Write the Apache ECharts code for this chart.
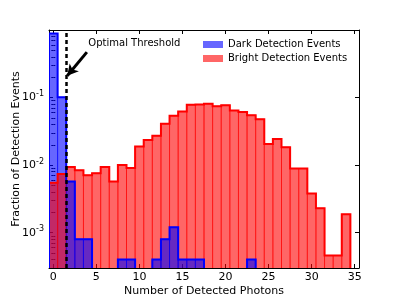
<!DOCTYPE html>
<html><head><meta charset="utf-8">
<script src="https://cdn.jsdelivr.net/npm/echarts@6/dist/echarts.min.js"></script>
<style>html,body{margin:0;padding:0;background:#fff}#c{width:399px;height:299px}</style>
</head><body><div id="c"></div>
<script>
// ---- data ----
const bins = [0,1,2,3,4,5,6,7,8,9,10,11,12,13,14,15,16,17,18,19,20,21,22,23,24,25,26,27,28,29,30,31,32,33,34];
const darkValues = [0.887,0.101,0.0057,0.0008,0.0008,0,0,0,0.0004,0.0004,0,0,0.0004,0.0008,0.0012,0.0004,0.0004,0.0004,0,0,0,0,0,0.0004,0,0,0,0,0,0,0,0,0,0,0];
const brightValues = [0.0055,0.0074,0.0094,0.0084,0.0071,0.0076,0.0094,0.0057,0.0100,0.0091,0.0189,0.0235,0.0271,0.041,0.054,0.062,0.078,0.079,0.081,0.0745,0.077,0.0643,0.0612,0.0548,0.0478,0.0205,0.0244,0.0184,0.0089,0.0089,0.0038,0.0023,0.00046,0.00046,0.00187];
const xTickValues = [0,5,10,15,20,25,30,35];
const yTickValues = [0.001,0.01,0.1,1];
const yLabelValues = [0.001,0.01,0.1];
const yMinorValues = [0.0004,0.0005,0.0006,0.0007,0.0008,0.0009,0.002,0.003,0.004,0.005,0.006,0.007,0.008,0.009,0.02,0.03,0.04,0.05,0.06,0.07,0.08,0.09,0.2,0.3,0.4,0.5,0.6,0.7,0.8,0.9];
const threshold = 1.5;
const annotationText = 'Optimal Threshold';
const arrowFrom = [3.9, 0.47];
const arrowTo = [1.62, 0.21];
const textAt = [4.07, 0.634];
const darkName = 'Dark Detection Events';
const brightName = 'Bright Detection Events';

const X_MIN = -0.5, X_MAX = 35.5, Y_MIN = 0.0003, Y_MAX = 1;
const FONT = 'DejaVu Sans';

function histRender(values, fill, edge, line, fillTest, outline) {
  return function (params, api) {
    const i = params.dataIndex;
    const k = api.value(0);
    const v = values[i];
    const yBottom = api.coord([k, Y_MIN])[1] + 8;
    const yOf = (x, val) => val > 0 ? api.coord([x, val])[1] : yBottom;
    const children = [];
    const xL = api.coord([k - 0.5, Y_MIN])[0];
    const xR = api.coord([k + 0.5, Y_MIN])[0];
    if (v > 0 && fillTest(k)) {
      const yt = yOf(k, v);
      children.push({type: 'rect', shape: {x: xL, y: yt, width: xR - xL, height: yBottom - yt},
        style: {fill: fill, stroke: edge, lineWidth: 1}});
    }
    if (outline && i === 0) {
      const pts = [[api.coord([bins[0] - 0.5, Y_MIN])[0], yBottom]];
      for (let j = 0; j < values.length; j++) {
        const y = yOf(bins[j], values[j]);
        pts.push([api.coord([bins[j] - 0.5, Y_MIN])[0], y]);
        pts.push([api.coord([bins[j] + 0.5, Y_MIN])[0], y]);
      }
      pts.push([api.coord([bins[values.length - 1] + 0.5, Y_MIN])[0], yBottom]);
      children.push({type: 'polyline', shape: {points: pts},
        style: {fill: null, stroke: line, lineWidth: 2, lineJoin: 'miter'}, z2: 10});
    }
    return {type: 'group', children: children};
  };
}

const supLabel = {
  customValues: yLabelValues,
  fontFamily: FONT, color: '#000', margin: 5,
  formatter: v => '{b|10}{s|' + Math.round(Math.log10(v)) + '}',
  rich: {b: {fontSize: 11, fontFamily: FONT, color: '#000'},
         s: {fontSize: 8, fontFamily: FONT, color: '#000', padding: [0, 0, 7, 0]}}
};

const chart = echarts.init(document.getElementById('c'), null, {renderer: 'canvas'});
const dataDark = bins.map((b, i) => [b, darkValues[i] > 0 ? darkValues[i] : Y_MIN]);
const dataBright = bins.map((b, i) => [b, brightValues[i] > 0 ? brightValues[i] : Y_MIN]);

chart.setOption({
  animation: false,
  textStyle: {fontFamily: FONT},
  grid: {left: 49, right: 40, top: 30, bottom: 31, containLabel: false, outerBoundsMode: 'none'},
  legend: {
    data: [darkName, brightName], orient: 'vertical', left: 203, top: 39, padding: 0,
    icon: 'rect', itemWidth: 20, itemHeight: 7, itemGap: 3,
    textStyle: {fontSize: 10, color: '#000', fontFamily: FONT, lineHeight: 11},
    selectedMode: false
  },
  xAxis: [
    {type: 'value', min: X_MIN, max: X_MAX, position: 'bottom',
     name: 'Number of Detected Photons', nameLocation: 'middle', nameGap: 18, nameMoveOverlap: false,
     nameTextStyle: {fontSize: 11, color: '#000', fontFamily: FONT},
     axisLine: {show: true, onZero: false, lineStyle: {color: '#000', width: 1}},
     axisTick: {show: true, inside: true, length: 4, customValues: xTickValues, lineStyle: {color: '#000'}},
     axisLabel: {customValues: xTickValues, fontSize: 11, color: '#000', fontFamily: FONT, margin: 4},
     splitLine: {show: false}},
    {type: 'value', min: X_MIN, max: X_MAX, position: 'top',
     axisLine: {show: true, onZero: false, lineStyle: {color: '#000', width: 1}},
     axisTick: {show: true, inside: true, length: 4, customValues: xTickValues, lineStyle: {color: '#000'}},
     axisLabel: {show: false}, splitLine: {show: false}}
  ],
  yAxis: [
    {type: 'log', logBase: 10, min: Y_MIN, max: Y_MAX, position: 'left',
     name: 'Fraction of Detection Events', nameLocation: 'middle', nameGap: 27, nameMoveOverlap: false,
     nameTextStyle: {fontSize: 11, color: '#000', fontFamily: FONT},
     axisLine: {show: true, onZero: false, lineStyle: {color: '#000', width: 1}},
     axisTick: {show: true, inside: true, length: 4, customValues: yTickValues, lineStyle: {color: '#000'}},
     axisLabel: supLabel, splitLine: {show: false}},
    {type: 'log', logBase: 10, min: Y_MIN, max: Y_MAX, position: 'left',
     axisLine: {show: false},
     axisTick: {show: true, inside: true, length: 2, customValues: yMinorValues, lineStyle: {color: '#000'}},
     axisLabel: {show: false}, splitLine: {show: false}},
    {type: 'log', logBase: 10, min: Y_MIN, max: Y_MAX, position: 'right',
     axisLine: {show: true, onZero: false, lineStyle: {color: '#000', width: 1}},
     axisTick: {show: true, inside: true, length: 4, customValues: yTickValues, lineStyle: {color: '#000'}},
     axisLabel: {show: false}, splitLine: {show: false}},
    {type: 'log', logBase: 10, min: Y_MIN, max: Y_MAX, position: 'right',
     axisLine: {show: false},
     axisTick: {show: true, inside: true, length: 2, customValues: yMinorValues, lineStyle: {color: '#000'}},
     axisLabel: {show: false}, splitLine: {show: false}}
  ],
  series: [
    {type: 'custom', name: darkName, z: 1, clip: true, itemStyle: {color: '#6666FF'},
     renderItem: histRender(darkValues, 'rgba(0,0,255,0.6)', 'rgba(0,0,255,0.6)', '#0000FF', k => k <= 1, false),
     data: dataDark},
    {type: 'custom', name: brightName, z: 2, clip: true, itemStyle: {color: '#FF6666'},
     renderItem: histRender(brightValues, 'rgba(255,0,0,0.6)', 'rgba(255,0,0,0.6)', '#FF0000', k => true, true),
     data: dataBright},
    {type: 'custom', name: darkName, z: 3, clip: true, itemStyle: {color: '#6666FF'},
     renderItem: histRender(darkValues, 'rgba(0,0,255,0.6)', 'rgba(0,0,255,0.6)', '#0000FF', k => k >= 2, true),
     data: dataDark},
    {type: 'line', name: 'annot', z: 10, data: [], silent: true,
     markLine: {
       silent: true, animation: false, symbol: ['none', 'none'],
       label: {show: false},
       emphasis: {disabled: true},
       data: [
         [{coord: [threshold, Y_MIN], lineStyle: {type: [4, 3], width: 2.5, color: '#000'}},
          {coord: [threshold, Y_MAX]}],
         [{coord: arrowFrom, lineStyle: {type: 'solid', width: 3, color: '#000'}},
          {coord: arrowTo, symbol: 'arrow', symbolSize: [9, 11]}]
       ]
     },
     markPoint: {
       silent: true, symbol: 'circle', symbolSize: 0,
       data: [{coord: textAt, label: {show: true, position: 'right', distance: 0,
         formatter: annotationText, fontSize: 10, color: '#000', fontFamily: FONT}}]
     }}
  ]
});
</script></body></html>
